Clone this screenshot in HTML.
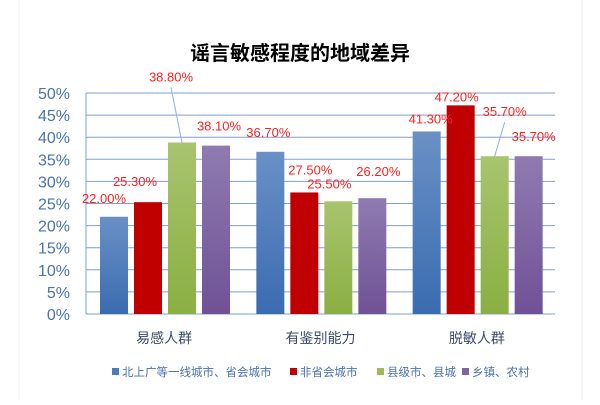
<!DOCTYPE html>
<html><head><meta charset="utf-8"><style>
body{margin:0;background:#fff;width:600px;height:400px;overflow:hidden;font-family:"Liberation Sans","Noto Sans CJK SC",sans-serif}
</style></head><body>
<svg id="chart" width="600" height="400" xmlns="http://www.w3.org/2000/svg" font-family="Liberation Sans, Noto Sans CJK SC, sans-serif">
<defs>
<linearGradient id="g0" x1="0" y1="0" x2="0" y2="1"><stop offset="0" stop-color="#6a90c6"/><stop offset="1" stop-color="#3a6cb0"/></linearGradient>
<linearGradient id="g1" x1="0" y1="0" x2="0" y2="1"><stop offset="0" stop-color="#c00000"/><stop offset="1" stop-color="#c00000"/></linearGradient>
<linearGradient id="g2" x1="0" y1="0" x2="0" y2="1"><stop offset="0" stop-color="#a8c46e"/><stop offset="1" stop-color="#8aaf42"/></linearGradient>
<linearGradient id="g3" x1="0" y1="0" x2="0" y2="1"><stop offset="0" stop-color="#8f7bb0"/><stop offset="1" stop-color="#6f5296"/></linearGradient>
</defs>
<line x1="19" y1="0" x2="19" y2="400" stroke="#f0f0f0"/>
<line x1="582" y1="0" x2="582" y2="400" stroke="#f0f0f0"/>
<text x="300" y="60" text-anchor="middle" font-size="20" font-weight="bold" fill="#000">谣言敏感程度的地域差异</text>
<g id="grid"></g><g id="bars"></g><g id="labels"></g><g id="legend"></g>
</svg>
<script>
const categories=["易感人群","有鉴别能力","脱敏人群"];
const seriesNames=["北上广等一线城市、省会城市","非省会城市","县级市、县城","乡镇、农村"];
const s0=[22.0,36.7,41.3];
const s1=[25.3,27.5,47.2];
const s2=[38.8,25.5,35.7];
const s3=[38.1,26.2,35.7];
const yTicks=[0,5,10,15,20,25,30,35,40,45,50];
const series=[s0,s1,s2,s3];
const colors=["#4a7cbc","#c00000","#9bbb59","#8064a2"];
// label offsets [dx,dy] relative to bar top-center (layout only)
const labOff=[[[-10,-14],[-2,-15],[4,-8]],[[-13,-16],[6,-18],[-4,-4]],[[-11,-61],[-9,-13],[10,-40]],[[3,-15],[6,-22],[5,-15]]];
const NS="http://www.w3.org/2000/svg";
const L=86,R=555,T=93,B=314;
const y=v=>B-(v/50)*(B-T);
const gw=(R-L)/categories.length;
const bx=(c,s)=>L+c*gw+14+s*34;
function mk(tag,attrs,parent,txt){const e=document.createElementNS(NS,tag);for(const k in attrs)e.setAttribute(k,attrs[k]);if(txt!=null)e.textContent=txt;document.getElementById(parent).appendChild(e);return e;}
yTicks.forEach(t=>{
 const l=mk('line',{x1:L,x2:R,y1:y(t),y2:y(t),stroke:'#7f9fcf','stroke-width':1},'grid');
 
 
 const tx=mk('text',{x:L-16,y:y(t)+6,'text-anchor':'end','font-size':16,fill:'#4a72b0'},'grid',t+'%');
 
 
});
const ax=mk('line',{x1:L,x2:L,y1:T,y2:B,stroke:'#7f9fcf'},'grid');


categories.forEach((c,i)=>{
 const t=mk('text',{x:L+gw*(i+0.5),y:343,'text-anchor':'middle','font-size':14,fill:'#3a4a6a'},'grid',c);
 
 
});
series.forEach((s,si)=>{
 s.forEach((v,ci)=>{
  const x=bx(ci,si);
  const r=mk('rect',{x:x,y:y(v),width:28,height:B-y(v),fill:'url(#g'+si+')'},'bars');
  
  
  const o=labOff[si][ci];
  const lx=x+14+o[0],ly=y(v)+o[1];
  if(o[1]<-30){
   const ln=mk('line',{x1:x+14,y1:y(v),x2:lx,y2:ly+6,stroke:'#8fb0dc'},'labels');
   
   
  }
  const t=mk('text',{x:lx,y:ly,'text-anchor':'middle','font-size':13,fill:'#ff2020'},'labels',v.toFixed(2)+'%');
  
  
 });
});
const legX=[112,290,377,462];
seriesNames.forEach((n,i)=>{
 const r=mk('rect',{x:legX[i],y:368,width:7,height:7,fill:colors[i]},'legend');
 
 
 const t=mk('text',{x:legX[i]+10,y:376,'font-size':11.5,fill:'#4a72b0'},'legend',n);
 
 
});
</script>
</body></html>
